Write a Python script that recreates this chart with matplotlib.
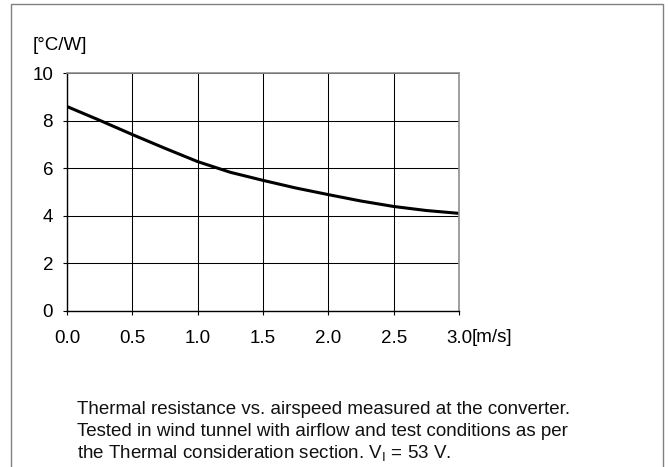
import matplotlib
matplotlib.use('Agg')
import matplotlib.pyplot as plt
from matplotlib.patches import Rectangle

# airspeed [m/s] and thermal resistance [°C/W]
airspeed = [0.0, 0.25, 0.5, 0.75, 1.0, 1.25, 1.5, 1.75, 2.0, 2.25, 2.5, 2.75, 3.0]
rth = [8.6, 8.02, 7.42, 6.84, 6.28, 5.83, 5.49, 5.17, 4.89, 4.62, 4.39, 4.22, 4.1]

xticks = [0.0, 0.5, 1.0, 1.5, 2.0, 2.5, 3.0]
xlabels = ['0.0', '0.5', '1.0', '1.5', '2.0', '2.5', '3.0']
yticks = [0, 2, 4, 6, 8, 10]

caption = ['Thermal resistance vs. airspeed measured at the converter.',
           'Tested in wind tunnel with airflow and test conditions as per',
           'the Thermal consideration section. V$_\\mathrm{I}$ = 53 V.']

plt.rcParams['font.family'] = ['Liberation Sans', 'DejaVu Sans']
plt.rcParams['mathtext.fontset'] = 'custom'
plt.rcParams['mathtext.rm'] = 'Liberation Sans'
plt.rcParams['mathtext.it'] = 'Liberation Sans'

FS = 13.5
W, H = 669, 467
fig = plt.figure(figsize=(W / 100, H / 100), dpi=100)

# outer gray frame
fig.patches.append(Rectangle((11 / W, -0.05), (663 - 11) / W, 1.05 - 3.5 / H,
                             transform=fig.transFigure, fill=False,
                             edgecolor='#808080', linewidth=1.0))

left, right, top, bottom = 67, 459, 73.3, 310.7
ax = fig.add_axes([left / W, 1 - bottom / H, (right - left) / W, (bottom - top) / H])

ax.plot(airspeed, rth, color='black', linewidth=2.2, solid_capstyle='butt')

ax.set_xlim(0, 3)
ax.set_ylim(0, 10)
ax.set_xticks(xticks)
ax.set_xticklabels(xlabels)
ax.set_yticks(yticks)
ax.grid(True, color='black', linewidth=0.75)
ax.set_axisbelow(True)

ax.tick_params(axis='both', direction='out', length=3, width=0.8, labelsize=FS, colors='black')
ax.tick_params(axis='x', pad=11)
ax.tick_params(axis='y', pad=7)

for s in ['top', 'right']:
    ax.spines[s].set_color('#909090')
    ax.spines[s].set_linewidth(1.2)
for s in ['left', 'bottom']:
    ax.spines[s].set_color('black')
    ax.spines[s].set_linewidth(1.0)

fig.text(33 / W, 1 - 45 / H, '[°C/W]', fontsize=FS, va='center', ha='left')
fig.text(472 / W, 1 - 337 / H, '[m/s]', fontsize=FS, va='center', ha='left')

for i, line in enumerate(caption):
    fig.text(77 / W, 1 - (410 + 21.5 * i) / H, line, fontsize=FS,
             va='center', ha='left', color='#111111')

fig.savefig('out.png', dpi=100)
